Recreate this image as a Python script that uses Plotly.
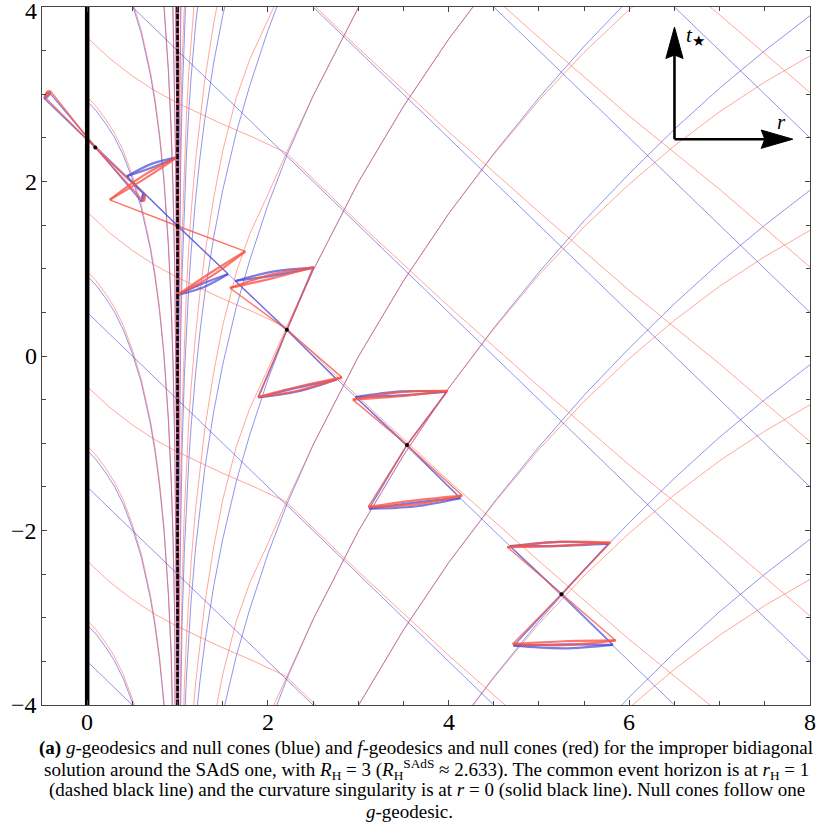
import plotly.graph_objects as go

# ---------------- data ----------------
# g (blue) outgoing null geodesic outside the horizon: one template, repeated every dt = 2
G_OUT_R = [1.00001, 1.0001, 1.0002, 1.0005, 1.001, 1.002, 1.005, 1.01, 1.02, 1.035, 1.05, 1.075,
           1.1, 1.125, 1.15, 1.2, 1.25, 1.3, 1.4, 1.5, 1.65, 1.8, 2.0, 2.21, 2.5, 3.0, 3.5, 4.0,
           4.5, 5.0, 5.5, 6.0, 6.5, 7.0, 7.5, 8.0, 8.5]
G_OUT_T = [-23.96, -19.41, -18.04, -16.23, -14.86, -13.49, -11.67, -10.30, -8.92, -7.80, -7.08, -6.25,
           -5.66, -5.19, -4.81, -4.20, -3.71, -3.30, -2.64, -2.10, -1.44, -0.90, -0.27, 0.30, 0.98, 1.99,
           2.86, 3.63, 4.32, 4.96, 5.55, 6.09, 6.60, 7.07, 7.50, 7.90, 8.27]
# f (red) outgoing null geodesic outside the horizon
F_OUT_T = [-23.51, -18.96, -17.59, -15.78, -14.41, -13.04, -11.22, -9.85, -8.47, -7.35, -6.63, -5.80,
           -5.21, -4.74, -4.36, -3.75, -3.26, -2.85, -2.19, -1.65, -1.04, -0.60, -0.15, 0.34, 0.98, 1.99,
           2.86, 3.63, 4.31, 4.93, 5.48, 5.97, 6.41, 6.80, 7.14, 7.44, 7.70]
OUT_SHIFTS = [-12, -10, -8, -6, -4, -2, 0, 2, 4, 6, 8, 10, 12, 14, 16, 18, 20, 22]

# outgoing null geodesics inside the horizon (0 < r < 1)
G_IN_R = [0.0, 0.1, 0.2, 0.3, 0.4, 0.5, 0.6, 0.65, 0.7, 0.75, 0.8, 0.85, 0.9, 0.93, 0.95, 0.97,
          0.98, 0.99, 0.995, 0.998, 0.999, 0.9995, 0.9998, 0.9999, 0.99999]
G_IN_T = [-1.08, -1.19, -1.33, -1.49, -1.70, -1.97, -2.31, -2.53, -2.78, -3.09, -3.48, -4.00, -4.76,
          -5.43, -6.08, -7.06, -7.85, -9.22, -10.59, -12.39, -13.76, -15.13, -16.94, -18.31, -22.87]
F_IN_T = [-1.03, -1.14, -1.28, -1.44, -1.65, -1.93, -2.27, -2.49, -2.74, -3.05, -3.44, -3.96, -4.72,
          -5.39, -6.04, -7.02, -7.81, -9.18, -10.55, -12.35, -13.72, -15.09, -16.90, -18.27, -22.83]
IN_SHIFTS = [-2, 0, 2, 4, 6, 8, 10, 12, 14, 16, 18, 20, 22, 24]

# g (blue) ingoing null geodesics: straight lines, labelled by t at r = 0
G_ING_C = [-3.5, -1.5, 0.5, 2.5, 4.5, 6.5, 8.5, 10.5]
G_ING_R = [0.0, 8.6]
G_ING_DT = [0.0, -8.6]

# f (red) ingoing null geodesics (kink at r ~ 2.2), labelled by t at r = 0
F_ING_R = [0.0, 0.25, 0.5, 0.75, 1.0, 1.25, 1.47, 1.85, 2.2, 2.3, 3.0, 4.0, 5.0, 6.0, 7.0, 8.0, 8.6]
F_ING_DT = [0.0, -0.24, -0.44, -0.61, -0.75, -0.87, -0.98, -1.15, -1.32, -1.42, -2.12, -3.08, -4.00,
            -4.90, -5.74, -6.63, -7.15]
F_ING_T0 = [9.65, 7.65, 5.65, 3.65, 1.65, -0.35, -2.35]

# null cones along one g-geodesic: apex and the four rim corners (r, t)
DOT_R = [0.09, 1.0, 2.21, 3.54, 5.25]
DOT_T = [2.39, 1.49, 0.30, -1.02, -2.73]
G_UL = [(-0.475, 2.95), (0.44, 2.06), (1.64, 0.86), (2.97, -0.47), (4.68, -2.18)]
G_UR = [(-0.41, 3.01), (1.0, 2.28), (2.50, 1.01), (3.98, -0.41), (5.77, -2.15)]
G_LL = [(0.60, 1.77), (1.0, 0.70), (1.895, -0.475), (3.12, -1.75), (4.72, -3.32)]
G_LR = [(0.62, 1.86), (1.56, 0.94), (2.76, -0.27), (4.13, -1.63), (5.82, -3.31)]
F_UL = [(-0.47, 2.97), (0.25, 1.79), (1.58, 0.78), (2.94, -0.50), (4.65, -2.19)]
F_UR = [(-0.40, 3.03), (1.0, 2.28), (2.51, 1.02), (3.99, -0.40), (5.79, -2.14)]
F_LL = [(0.62, 1.78), (1.0, 0.70), (1.89, -0.47), (3.11, -1.73), (4.71, -3.30)]
F_LR = [(0.64, 1.85), (1.75, 1.20), (2.82, -0.245), (4.15, -1.60), (5.85, -3.26)]
CAP_SAG = 0.035

SINGULARITY_R = 0.0
HORIZON_R = 1.0

X_TICKS = [0, 2, 4, 6, 8]
X_TICK_TEXT = ["0", "2", "4", "6", "8"]
Y_TICKS = [-4, -2, 0, 2, 4]
Y_TICK_TEXT = ["−4", "−2", "0", "2", "4"]
X_MINOR = [-0.5 + 0.5 * i for i in range(18)]
Y_MINOR = [-4 + 0.5 * i for i in range(17)]

# coordinate key (arrows in the top-right corner), in data units
KEY_O = (6.50, 2.485)
KEY_UP_TIP = (6.50, 3.77)
KEY_UP_BACK = [(6.405, 3.41), (6.50, 3.45), (6.595, 3.41)]
KEY_RT_TIP = (7.81, 2.485)
KEY_RT_BACK = [(7.46, 2.59), (7.50, 2.485), (7.46, 2.38)]

CAPTION = [
    "<b>(a)</b> <i>g</i>-geodesics and null cones (blue) and <i>f</i>-geodesics and null cones (red) for the improper bidiagonal",
    "solution around the SAdS one, with <i>R</i><sub>H</sub> = 3 (<i>R</i><sub>H</sub><sup>SAdS</sup> ≈ 2.633). The common event horizon is at <i>r</i><sub>H</sub> = 1",
    "(dashed black line) and the curvature singularity is at <i>r</i> = 0 (solid black line). Null cones follow one",
    "<i>g</i>-geodesic.",
]

# ---------------- styles ----------------
BLUE = "rgba(60,60,215,0.55)"
RED = "rgba(255,95,75,0.55)"
BLUE_CONE = "rgba(80,80,215,0.75)"
RED_CONE = "rgba(250,85,70,0.8)"
SERIF = "Liberation Serif"

fig = go.Figure()


def add_line(xs, ys, color, width, shape="linear", dash=None):
    fig.add_trace(go.Scatter(x=xs, y=ys, mode="lines", hoverinfo="skip",
                             line=dict(color=color, width=width, shape=shape, dash=dash)))


# geodesic families
for s in OUT_SHIFTS:
    add_line(G_OUT_R, [t + s for t in G_OUT_T], BLUE, 1)
    add_line(G_OUT_R, [t + s for t in F_OUT_T], RED, 1)
for s in IN_SHIFTS:
    add_line(G_IN_R, [t + s for t in G_IN_T], BLUE, 1)
    add_line(G_IN_R, [t + s for t in F_IN_T], RED, 1)
for c in G_ING_C:
    add_line(G_ING_R, [c + d for d in G_ING_DT], BLUE, 1)
for t0 in F_ING_T0:
    add_line(F_ING_R, [t0 + d for d in F_ING_DT], RED, 1)


# null cones
def add_cone(i, UL, UR, LL, LR, color):
    dr, dt = DOT_R[i], DOT_T[i]
    add_line([UL[i][0], dr, LR[i][0]], [UL[i][1], dt, LR[i][1]], color, 1.4)
    add_line([LL[i][0], dr, UR[i][0]], [LL[i][1], dt, UR[i][1]], color, 1.4)
    for a, b, sgn in ((UL[i], UR[i], 1), (LL[i], LR[i], -1)):
        mr, mt = (a[0] + b[0]) / 2, (a[1] + b[1]) / 2
        add_line([a[0], mr, b[0]], [a[1], mt + sgn * CAP_SAG, b[1]], color, 2.2, shape="spline")
        add_line([a[0], mr, b[0]], [a[1], mt - sgn * CAP_SAG * 0.3, b[1]], color, 2.2, shape="spline")


for i in range(len(DOT_R)):
    add_cone(i, G_UL, G_UR, G_LL, G_LR, BLUE_CONE)
    add_cone(i, F_UL, F_UR, F_LL, F_LR, RED_CONE)

# singularity and horizon
add_line([SINGULARITY_R, SINGULARITY_R], [-4, 4], "black", 4.5)
add_line([HORIZON_R, HORIZON_R], [-4, 4], "black", 2.5, dash="5px,2px")

# apex dots
fig.add_trace(go.Scatter(x=DOT_R, y=DOT_T, mode="markers", hoverinfo="skip",
                         marker=dict(color="black", size=4)))

# coordinate key
shapes = [
    dict(type="line", xref="x", yref="y", x0=KEY_O[0], y0=KEY_O[1], x1=KEY_UP_BACK[1][0], y1=KEY_UP_BACK[1][1],
         line=dict(color="black", width=2.6)),
    dict(type="line", xref="x", yref="y", x0=KEY_O[0], y0=KEY_O[1], x1=KEY_RT_BACK[1][0], y1=KEY_RT_BACK[1][1],
         line=dict(color="black", width=2.6)),
]
for tip, back in ((KEY_UP_TIP, KEY_UP_BACK), (KEY_RT_TIP, KEY_RT_BACK)):
    pts = [tip] + back
    path = "M " + " L ".join(f"{p[0]},{p[1]}" for p in pts) + " Z"
    shapes.append(dict(type="path", xref="x", yref="y", path=path,
                       fillcolor="black", line=dict(color="black", width=1)))

TICK_FONT = dict(family=SERIF, size=24, color="black")
annotations = [
    dict(x=KEY_UP_TIP[0] + 0.1, y=KEY_UP_TIP[1] - 0.1, xref="x", yref="y", xanchor="left", yanchor="middle",
         text="<i>t</i><sub>★</sub>", showarrow=False, font=dict(family=SERIF, size=21, color="black")),
    dict(x=KEY_RT_TIP[0] - 0.12, y=KEY_RT_TIP[1] + 0.2, xref="x", yref="y", xanchor="center", yanchor="middle",
         text="<i>r</i>", showarrow=False, font=dict(family=SERIF, size=21, color="black")),
]
# tick labels (drawn as text so the top "4" is kept, as in the reference)
for v, s in zip(X_TICKS, X_TICK_TEXT):
    annotations.append(dict(x=v, y=0, xref="x", yref="paper", xanchor="center", yanchor="top", yshift=-2,
                            text=s, showarrow=False, font=TICK_FONT))
for v, s in zip(Y_TICKS, Y_TICK_TEXT):
    annotations.append(dict(x=0, y=v, xref="paper", yref="y", xanchor="right", yanchor="middle", xshift=-3,
                            yshift=(-4 if v == Y_TICKS[-1] else 0),
                            text=s, showarrow=False, font=TICK_FONT))

# caption lines (pixel centre -> paper coordinates of the plot area)
PLOT_L, PLOT_W, PLOT_B, PLOT_H = 42, 768, 705, 698
CAP_Y = [748, 769, 790, 811]
CAP_X = [426, 426, 427, 409]
for txt, yp, xp in zip(CAPTION, CAP_Y, CAP_X):
    annotations.append(dict(x=(xp - PLOT_L) / PLOT_W, y=(PLOT_B - yp) / PLOT_H, xref="paper", yref="paper",
                            xanchor="center", yanchor="middle", text=txt, showarrow=False,
                            font=dict(family=SERIF, size=19, color="black")))

axis_common = dict(showgrid=False, zeroline=False, showline=True, linecolor="#444", linewidth=1.2,
                   mirror="allticks", ticks="inside", ticklen=5, tickcolor="#444", tickwidth=1,
                   showticklabels=False)
fig.update_layout(
    width=817, height=829,
    margin=dict(l=42, r=7, t=7, b=124),
    paper_bgcolor="white", plot_bgcolor="white",
    showlegend=False,
    xaxis=dict(range=[-0.5, 8], tickvals=X_TICKS,
               minor=dict(tickvals=X_MINOR, ticks="inside", ticklen=4, tickcolor="#444"), **axis_common),
    yaxis=dict(range=[-4, 4], tickvals=Y_TICKS,
               minor=dict(tickvals=Y_MINOR, ticks="inside", ticklen=4, tickcolor="#444"), **axis_common),
    shapes=shapes,
    annotations=annotations,
)

fig.write_html("out.html")
